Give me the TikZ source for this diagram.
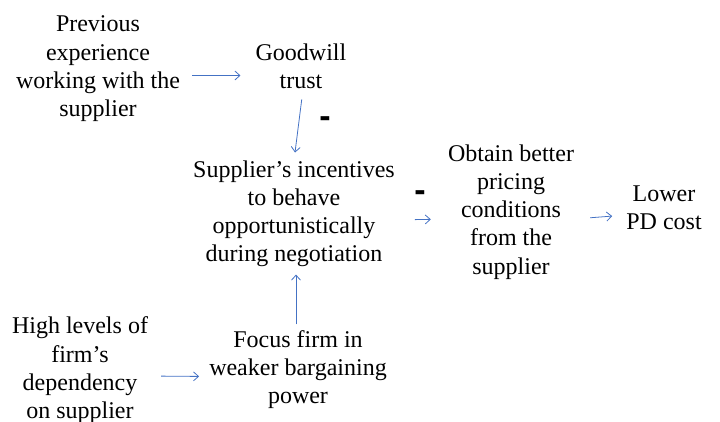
\documentclass[tikz,border=0pt]{standalone}
\usepackage{fontspec}
\setmainfont{Liberation Serif}
\newfontfamily\minusfont{Liberation Sans}
\usetikzlibrary{arrows.meta}
\definecolor{arrowblue}{HTML}{4472C4}
\tikzset{
  concept/.style={align=center,inner sep=0pt,font=\fontsize{24}{28.2}\selectfont,
    execute at begin node=\strut, execute at end node=\strut},
  link/.style={draw=arrowblue,line width=0.8pt,-{Straight Barb[length=5pt,width=9pt]}},
  signlabel/.style={inner sep=0pt,font=\minusfont\bfseries\fontsize{34}{34}\selectfont}
}
\begin{document}
\begin{tikzpicture}[x=1pt,y=-1pt]
\useasboundingbox (0,0) rectangle (720,421);
\node[concept] (prev) at (98,70.5) {Previous\\experience\\working with the\\supplier};
\node[concept] (good) at (301,70.5) {Goodwill\\trust};
\node[concept] (supp) at (294,215.5) {Supplier’s incentives\\to behave\\opportunistically\\during negotiation};
\node[concept] (obt) at (511,213.5) {Obtain better\\pricing\\conditions\\from the\\supplier};
\node[concept] (low) at (664,211.5) {Lower\\PD cost};
\node[concept] (foc) at (298,371.5) {Focus firm in\\weaker bargaining\\power};
\node[concept] (high) at (80,372) {High levels of\\firm’s\\dependency\\on supplier};
\node[signlabel] (m1) at (325,122) {-};
\node[signlabel] (m2) at (420,196) {-};
\draw[link,shorten <=12pt,shorten >=15pt] ([yshift=-5pt]prev.east) -- ([yshift=-5pt]good.west);
\draw[link,shorten <=2pt,shorten >=8pt] ([xshift=1pt]good.south) -- (supp.north);
\draw[link,shorten <=6pt,shorten >=4pt] ([xshift=-2pt]foc.north) -- ([xshift=2pt]supp.south);
\draw[link,shorten <=13pt,shorten >=10pt] ([yshift=-4pt]high.east) -- ([yshift=-5pt]foc.west);
\draw[link,shorten <=20pt,shorten >=17pt] ([yshift=-4.5pt]supp.east) -- ([yshift=-5.5pt]obt.west);
\draw[link,shorten <=16pt,shorten >=14pt] ([yshift=-5.5pt]obt.east) -- ([yshift=-3.5pt]low.west);
\end{tikzpicture}
\end{document}
